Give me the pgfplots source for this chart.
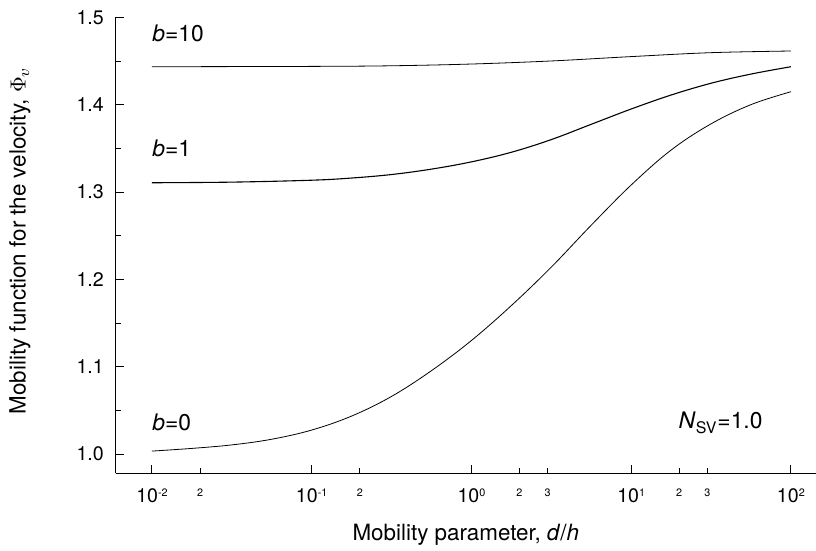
\documentclass[border=0pt]{standalone}
\usepackage{fontspec}
\setmainfont{TeX Gyre Heros}
\usepackage{pgfplots}
\pgfplotsset{compat=1.18}
\newcommand{\tl}[1]{\fontsize{9.8}{11}\selectfont 10\raisebox{3.3pt}{\fontsize{5.4}{6}\selectfont #1}}
\newcommand{\ml}[1]{\fontsize{9.8}{11}\selectfont\vphantom{1}\raisebox{3.3pt}{\fontsize{5.4}{6}\selectfont #1}}
\begin{document}
\begin{tikzpicture}
\begin{axis}[
  scale only axis, width=350.15pt, height=228pt,
  xmode=log, log basis x=10,
  xmin=0.00593, xmax=143.6, ymin=0.978, ymax=1.5,
  axis x line=bottom, axis y line=left,
  axis line style={-, line width=0.75pt},
  tick align=inside,
  tick style={line width=0.45pt, black},
  major tick length=4pt, minor tick length=2.5pt,
  xtick={0.01,0.1,1,10,100},
  xticklabels={\tl{-2},\tl{-1},\tl{0},\tl{1},\tl{2}},
  extra x ticks={0.02,0.2,2,3,20,30},
  extra x tick labels={\ml{2},\ml{2},\ml{2},\ml{3},\ml{2},\ml{3}},
  extra x tick style={major tick length=2.5pt},
  xticklabel style={yshift=-4pt},
  ytick={1.0,1.1,1.2,1.3,1.4,1.5},
  minor y tick num=1,
  yticklabel style={font=\fontsize{9.8}{11}\selectfont, xshift=-2.4pt},
  /pgf/number format/assume math mode=true,
  /pgf/number format/.cd, fixed, fixed zerofill, precision=1, /pgfplots/.cd,
  xlabel={Mobility parameter, \textit{d}/\textit{h}},
  ylabel={Mobility function for the velocity, $\Phi_{v}$},
  label style={font=\fontsize{11.2}{13}\selectfont},
  xlabel style={at={(axis description cs:0.5,-0.135)}, anchor=center},
  ylabel style={at={(axis description cs:-0.1367,0.51)}, anchor=center},
  cycle list={{black, line width=0.55pt, no markers}},
]
\addplot+[smooth, tension=0.6] table {
0.01 1.0034
0.017783 1.0065
0.031623 1.0105
0.056234 1.0170
0.1 1.0275
0.177828 1.0435
0.316228 1.0660
0.562341 1.0955
1 1.1300
1.778279 1.1700
3.162278 1.2140
5.623413 1.2620
10 1.3080
17.78279 1.3480
31.62278 1.3780
56.23413 1.4000
100 1.4148
};
\addplot+[smooth, tension=0.6] table {
0.01 1.3106
0.031623 1.3113
0.1 1.3135
0.177828 1.3160
0.316228 1.3200
0.562341 1.3262
1 1.3345
1.778279 1.3455
3.162278 1.3600
5.623413 1.3775
10 1.3950
17.78279 1.4110
31.62278 1.4245
56.23413 1.4350
100 1.4434
};
\addplot+[smooth, tension=0.6] table {
0.01 1.4434
0.1 1.4438
0.316228 1.4445
1 1.4465
3.162278 1.4500
10 1.4550
31.62278 1.4595
100 1.4614
};
\node[anchor=west, font=\fontsize{11.4}{13}\selectfont, inner sep=0pt] at (axis cs:0.01,1.482) {\textit{b}=10};
\node[anchor=west, font=\fontsize{11.4}{13}\selectfont, inner sep=0pt] at (axis cs:0.01,1.3504) {\textit{b}=1};
\node[anchor=west, font=\fontsize{11.4}{13}\selectfont, inner sep=0pt] at (axis cs:0.01,1.0365) {\textit{b}=0};
\node[anchor=east, font=\fontsize{11.4}{13}\selectfont, inner sep=0pt] at (axis cs:66.8,1.0356) {\textit{N}\textsubscript{SV}=1.0};
\end{axis}
\pgfresetboundingbox
\useasboundingbox (-57.85pt,-38.85pt) rectangle (350.15pt,236.65pt);
\end{tikzpicture}
\end{document}
